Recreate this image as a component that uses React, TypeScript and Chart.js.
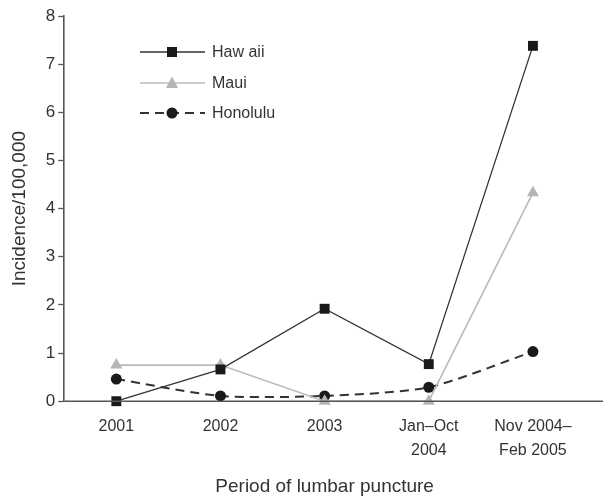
import React, { useEffect, useRef } from "react";
import { Chart, registerables } from "chart.js";

Chart.register(...registerables);

const categories: (string | string[])[] = ["2001", "2002", "2003", ["Jan–Oct", "2004"], ["Nov 2004–", "Feb 2005"]];
const hawaii = [0, 0.66, 1.92, 0.77, 7.38];
const maui = [0.75, 0.75, 0, 0, 4.33];
const honolulu = [0.46, 0.11, 0.11, 0.29, 1.03];
const yTicks = [0, 1, 2, 3, 4, 5, 6, 7, 8];

const FONT = "'Liberation Sans', Arial, sans-serif";
const TXT = "#333";

const overlayPlugin = {
  id: "overlay",
  afterDraw(chart: any) {
    const ctx = chart.ctx;
    const area = chart.chartArea;
    const yScale = chart.scales.y;
    ctx.save();
    ctx.strokeStyle = "#555";
    ctx.lineWidth = 1.6;
    ctx.beginPath();
    ctx.moveTo(area.left, yScale.getPixelForValue(0));
    ctx.lineTo(chart.width - 2, yScale.getPixelForValue(0));
    ctx.stroke();
    const items = chart.data.datasets;
    const rows = [52, 83, 113];
    items.forEach((ds: any, i: number) => {
      const y = rows[i];
      ctx.strokeStyle = ds.borderColor;
      ctx.lineWidth = ds.borderWidth;
      ctx.setLineDash(ds.borderDash || []);
      ctx.beginPath();
      ctx.moveTo(140, y);
      ctx.lineTo(205, y);
      ctx.stroke();
      ctx.setLineDash([]);
      ctx.fillStyle = ds.pointBackgroundColor;
      const cx = 172;
      if (ds.pointStyle === "rect") {
        ctx.fillRect(cx - 5, y - 5, 10, 10);
      } else if (ds.pointStyle === "triangle") {
        ctx.beginPath();
        ctx.moveTo(cx, y - 6.5);
        ctx.lineTo(cx + 6, y + 5);
        ctx.lineTo(cx - 6, y + 5);
        ctx.closePath();
        ctx.fill();
      } else {
        ctx.beginPath();
        ctx.arc(cx, y, 5.5, 0, Math.PI * 2);
        ctx.fill();
      }
      ctx.fillStyle = TXT;
      ctx.font = `16px ${FONT}`;
      ctx.textBaseline = "middle";
      ctx.textAlign = "left";
      ctx.fillText(ds.label, 212, y + 1);
    });
    ctx.restore();
  },
};

export default function App() {
  const ref = useRef<HTMLCanvasElement>(null);
  useEffect(() => {
    document.body.style.margin = "0";
    const chart = new Chart(ref.current!, {
      type: "line",
      data: {
        labels: categories,
        datasets: [
          {
            label: "Haw aii",
            data: hawaii,
            borderColor: "#333",
            borderWidth: 1.3,
            pointStyle: "rect",
            pointRadius: 7,
            pointBackgroundColor: "#1a1a1a",
            pointBorderColor: "#1a1a1a",
            pointBorderWidth: 0,
            tension: 0,
          },
          {
            label: "Maui",
            data: maui,
            borderColor: "#bbb",
            borderWidth: 1.6,
            pointStyle: "triangle",
            pointRadius: 7,
            pointBackgroundColor: "#b5b5b5",
            pointBorderColor: "#b5b5b5",
            pointBorderWidth: 0,
            tension: 0,
          },
          {
            label: "Honolulu",
            data: honolulu,
            borderColor: "#333",
            borderWidth: 2,
            borderDash: [9, 6],
            pointStyle: "circle",
            pointRadius: 5.5,
            pointBackgroundColor: "#1a1a1a",
            pointBorderColor: "#1a1a1a",
            pointBorderWidth: 0,
            tension: 0.25,
          },
        ] as any,
      },
      options: {
        animation: false,
        responsive: false,
        maintainAspectRatio: false,
        clip: false as any,
        layout: { padding: { top: 16, left: 8, right: 20, bottom: 0 } },
        plugins: { legend: { display: false }, tooltip: { enabled: false } },
        scales: {
          x: {
            offset: true,
            grid: { display: false, drawTicks: false },
            border: { display: false },
            ticks: { color: TXT, font: { family: FONT, size: 16, lineHeight: 1.5 }, padding: 13, maxRotation: 0, autoSkip: false },
            title: { display: true, text: "Period of lumbar puncture", color: TXT, font: { family: FONT, size: 19 }, padding: { top: 0, bottom: 0 } },
          },
          y: {
            min: 0,
            max: 8,
            afterBuildTicks: (axis: any) => {
              axis.ticks = yTicks.map((v) => ({ value: v }));
            },
            grid: { display: true, drawOnChartArea: false, drawTicks: true, tickLength: 6, color: "#555", tickWidth: 1.3 },
            border: { display: true, color: "#555", width: 1.6 },
            ticks: { color: TXT, font: { family: FONT, size: 17 }, padding: 3 },
            title: { display: true, text: "Incidence/100,000", color: TXT, font: { family: FONT, size: 19 }, padding: { top: 0, bottom: 12 } },
          },
        },
      },
      plugins: [overlayPlugin],
    });
    return () => chart.destroy();
  }, []);
  return <canvas ref={ref} width={605} height={498} style={{ display: "block", width: 605, height: 498 }} />;
}
